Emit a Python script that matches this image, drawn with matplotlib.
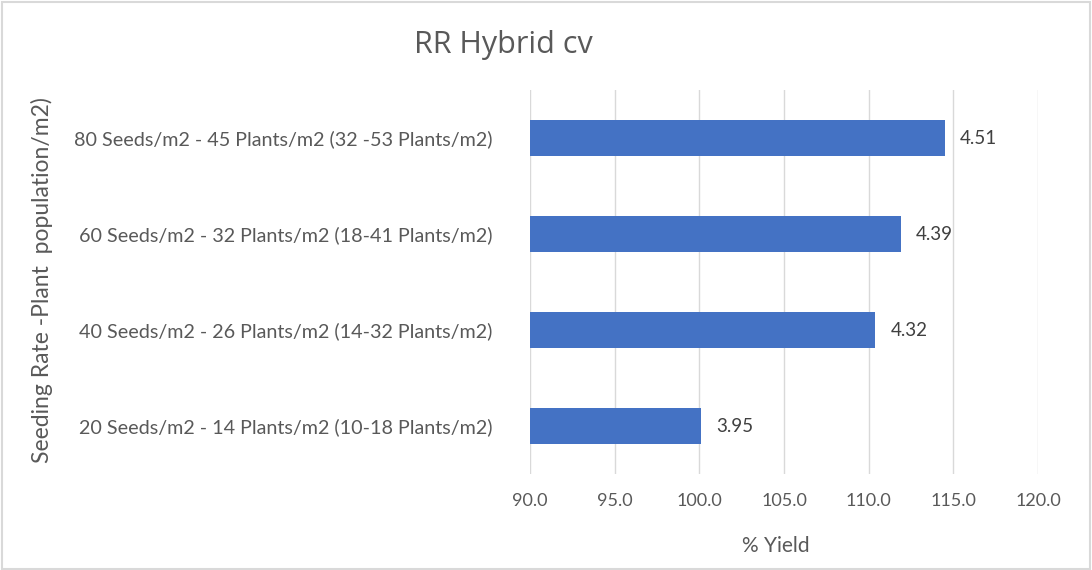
import matplotlib.pyplot as plt
from matplotlib.patches import Rectangle

# datos
categorias = ["20 Seeds/m2 - 14 Plants/m2 (10-18 Plants/m2)",
              "40 Seeds/m2 - 26 Plants/m2 (14-32 Plants/m2)",
              "60 Seeds/m2 - 32 Plants/m2 (18-41 Plants/m2)",
              "80 Seeds/m2 - 45 Plants/m2 (32 -53 Plants/m2)"]
rendimiento = [100.1, 110.4, 111.9, 114.5]
etiquetas = ["3.95", "4.32", "4.39", "4.51"]
ticks_x = [90, 95, 100, 105, 110, 115, 120]

plt.rcParams['font.family'] = ['Lato', 'DejaVu Sans']
gris = "#595959"

fig = plt.figure(figsize=(10.92, 5.70), dpi=100)
ax = fig.add_axes([530/1092, 1-474/570, (1038-530)/1092, (474-90)/570])

ax.barh(range(len(categorias)), [v - 90 for v in rendimiento], left=90,
        height=0.38, color="#4472C4", zorder=3)
for i, (v, t) in enumerate(zip(rendimiento, etiquetas)):
    ax.annotate(t, (v, i), xytext=(11, 0), textcoords="offset points",
                va="center", ha="left", fontsize=13.5, color="#404040")

ax.set_xlim(90, 120)
ax.set_ylim(-0.5, len(categorias) - 0.5)
ax.set_xticks(ticks_x)
ax.set_xticklabels([f"{t:.1f}" for t in ticks_x], fontsize=13, color=gris)
ax.set_yticks(range(len(categorias)))
ax.set_yticklabels(categorias, fontsize=14.2, color=gris)
ax.tick_params(length=0, pad=14)
ax.tick_params(axis="y", pad=27)
ax.grid(axis="x", color="#D9D9D9", linewidth=1, zorder=0)
for s in ax.spines.values():
    s.set_visible(False)

fig.text(776/1092, 1-546/570, "% Yield", ha="center", va="center",
         fontsize=15, color=gris)
fig.text(42/1092, 1-280/570, "Seeding Rate -Plant  population/m2)", rotation=90,
         ha="center", va="center", fontsize=16.5, color=gris)
fig.text(503/1092, 1-45/570, "RR Hybrid cv", ha="center", va="center",
         fontsize=22, color=gris, family=['Open Sans', 'DejaVu Sans'])

fig.patches.append(Rectangle((0.002, 0.002), 0.996, 0.994, transform=fig.transFigure,
                             fill=False, edgecolor="#D9D9D9", linewidth=1.5))

fig.savefig("out.png", dpi=100)
